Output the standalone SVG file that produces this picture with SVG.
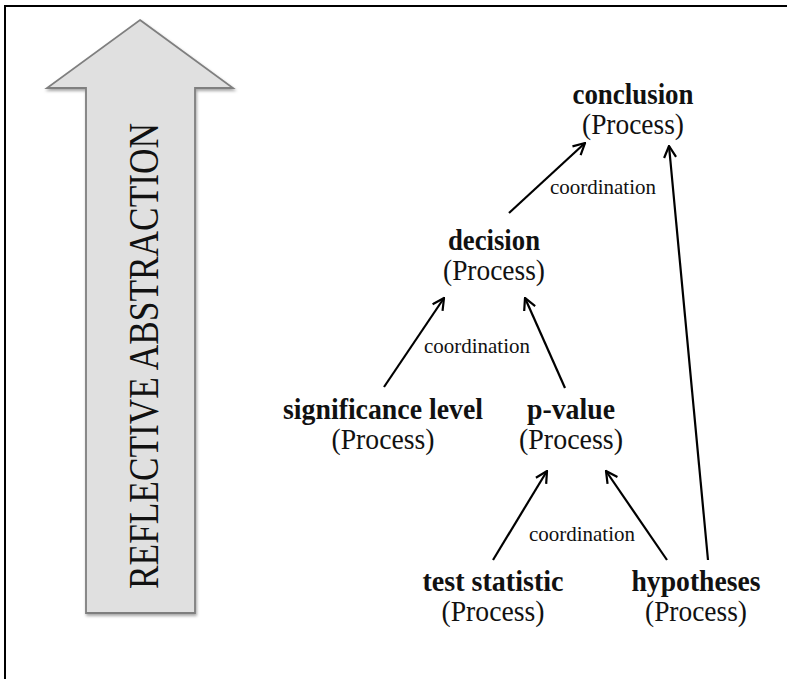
<svg xmlns="http://www.w3.org/2000/svg" width="787" height="679" viewBox="0 0 787 679">
  <style>
    .frame { fill: none; stroke: #000; stroke-width: 2; }
    .big-arrow { fill: #e0e0e0; stroke: #7f7f7f; stroke-width: 1.8; }
    .name { font-family: "Liberation Serif", "Times New Roman", serif; font-weight: bold; font-size: 29px; fill: #111; text-anchor: middle; }
    .kind { font-family: "Liberation Serif", "Times New Roman", serif; font-size: 29px; fill: #111; text-anchor: middle; }
    .label { font-family: "Liberation Serif", "Times New Roman", serif; font-size: 21px; fill: #111; text-anchor: middle; }
    .axis { font-family: "Liberation Serif", "Times New Roman", serif; font-size: 43px; fill: #111; text-anchor: middle; }
    .edge { stroke: #000; stroke-width: 2.2; fill: none; marker-end: url(#head); }
  </style>
  <defs>
    <marker id="head" viewBox="0 0 14 14" refX="13" refY="7" markerWidth="14" markerHeight="14" markerUnits="userSpaceOnUse" orient="auto">
      <path d="M1.5,1 L13,7 L1.5,13" fill="none" stroke="#000" stroke-width="2.2" stroke-linejoin="miter"/>
    </marker>
    <filter id="shadow" x="-10%" y="-10%" width="130%" height="130%">
      <feDropShadow dx="1" dy="2" stdDeviation="1.5" flood-color="#000" flood-opacity="0.35"/>
    </filter>
  </defs>

  <rect width="787" height="679" fill="#fff"/>
  <!-- page frame: only top and left edges fall inside the view -->
  <path class="frame" d="M5,680 L5,6 L790,6"/>

  <!-- big upward arrow with rotated caption -->
  <g id="reflective-abstraction">
    <path class="big-arrow" filter="url(#shadow)" d="M140,20 L233,88 L195,88 L195,613 L86,613 L86,88 L47,88 Z"/>
    <text class="axis" transform="translate(158,356) rotate(-90)" textLength="466" lengthAdjust="spacingAndGlyphs">REFLECTIVE ABSTRACTION</text>
  </g>

  <g id="connectors">
    <line class="edge" x1="509" y1="213" x2="585" y2="143"/>
    <line class="edge" x1="384" y1="387" x2="444" y2="298"/>
    <line class="edge" x1="565" y1="388" x2="525" y2="298"/>
    <line class="edge" x1="493" y1="560" x2="547" y2="471"/>
    <line class="edge" x1="667" y1="560" x2="606" y2="471"/>
    <line class="edge" x1="708" y1="560" x2="669" y2="146"/>
    <text class="label" x="603" y="194" textLength="106" lengthAdjust="spacingAndGlyphs">coordination</text>
    <text class="label" x="477" y="353" textLength="106" lengthAdjust="spacingAndGlyphs">coordination</text>
    <text class="label" x="582" y="541" textLength="106" lengthAdjust="spacingAndGlyphs">coordination</text>
  </g>

  <g id="conclusion">
    <text class="name" x="633" y="104" textLength="121" lengthAdjust="spacingAndGlyphs">conclusion</text>
    <text class="kind" x="633" y="134" textLength="102" lengthAdjust="spacingAndGlyphs">(Process)</text>
  </g>
  <g id="decision">
    <text class="name" x="494" y="250" textLength="92" lengthAdjust="spacingAndGlyphs">decision</text>
    <text class="kind" x="494" y="280" textLength="102" lengthAdjust="spacingAndGlyphs">(Process)</text>
  </g>
  <g id="significance-level">
    <text class="name" x="383" y="419" textLength="200" lengthAdjust="spacingAndGlyphs">significance level</text>
    <text class="kind" x="383" y="449" textLength="103" lengthAdjust="spacingAndGlyphs">(Process)</text>
  </g>
  <g id="p-value">
    <text class="name" x="571" y="419" textLength="88" lengthAdjust="spacingAndGlyphs">p-value</text>
    <text class="kind" x="571" y="449" textLength="104" lengthAdjust="spacingAndGlyphs">(Process)</text>
  </g>
  <g id="test-statistic">
    <text class="name" x="493" y="591" textLength="141" lengthAdjust="spacingAndGlyphs">test statistic</text>
    <text class="kind" x="493" y="621" textLength="103" lengthAdjust="spacingAndGlyphs">(Process)</text>
  </g>
  <g id="hypotheses">
    <text class="name" x="696" y="591" textLength="129" lengthAdjust="spacingAndGlyphs">hypotheses</text>
    <text class="kind" x="696" y="621" textLength="102" lengthAdjust="spacingAndGlyphs">(Process)</text>
  </g>
</svg>
